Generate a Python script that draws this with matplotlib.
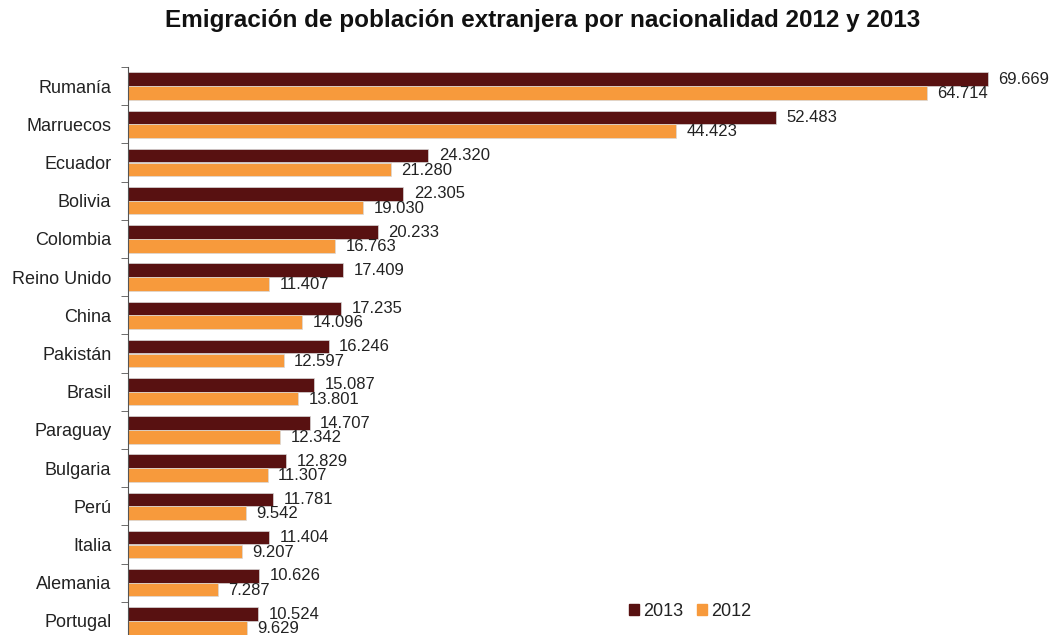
import numpy as np
import matplotlib
matplotlib.use('Agg')
import matplotlib.pyplot as plt
from matplotlib.patches import Patch

plt.rcParams['font.family'] = ['Liberation Sans', 'DejaVu Sans']

paises = ['Rumanía', 'Marruecos', 'Ecuador', 'Bolivia', 'Colombia', 'Reino Unido',
          'China', 'Pakistán', 'Brasil', 'Paraguay', 'Bulgaria', 'Perú', 'Italia',
          'Alemania', 'Portugal']
v2013 = [69669, 52483, 24320, 22305, 20233, 17409, 17235, 16246, 15087, 14707,
         12829, 11781, 11404, 10626, 10524]
v2012 = [64714, 44423, 21280, 19030, 16763, 11407, 14096, 12597, 13801, 12342,
         11307, 9542, 9207, 7287, 9629]

c13 = '#581111'
c12 = '#f79a3c'

def fmt(v):
    return '{:,}'.format(v).replace(',', '.')

fig = plt.figure(figsize=(10.52, 6.35), dpi=100)
ax = fig.add_axes([128/1052, 1 - 640/635, 1 - 128/1052, (640 - 67)/635])

y = np.arange(len(paises))
h = 0.355
ax.barh(y - 0.18, v2013, height=h, color=c13, edgecolor='#d8d8d8', linewidth=0.5)
ax.barh(y + 0.18, v2012, height=h, color=c12, edgecolor='#d8d8d8', linewidth=0.5)

for i in range(len(paises)):
    ax.text(v2013[i] + 850, y[i] - 0.18, fmt(v2013[i]), va='center', ha='left',
            fontsize=12, color='#222222')
    ax.text(v2012[i] + 850, y[i] + 0.2, fmt(v2012[i]), va='center', ha='left',
            fontsize=12, color='#222222')

ax.set_xlim(0, 74850)
ax.set_ylim(len(paises) - 0.5, -0.5)
ax.set_xticks([])
ax.set_yticks(y)
ax.set_yticklabels(paises, fontsize=13, color='#222222')
ax.tick_params(axis='y', which='major', length=0, pad=12)
ax.set_yticks(np.arange(-0.5, len(paises), 1), minor=True)
ax.tick_params(axis='y', which='minor', length=5, color='#555555')
for s in ['top', 'right', 'bottom']:
    ax.spines[s].set_visible(False)
ax.spines['left'].set_color('#555555')

fig.text(0.516, 0.967, 'Emigración de población extranjera por nacionalidad 2012 y 2013',
         ha='center', va='center', fontsize=17.5, fontweight='bold', color='#111111')

handles = [Patch(color=c13, label='2013'), Patch(color=c12, label='2012')]
fig.legend(handles=handles, loc='center', bbox_to_anchor=(0.656, 0.037), ncol=2,
           frameon=False, fontsize=13, handlelength=0.55, handleheight=0.55,
           handletextpad=0.2, columnspacing=0.8, labelcolor='#222222')

fig.savefig('out.png', dpi=100)
